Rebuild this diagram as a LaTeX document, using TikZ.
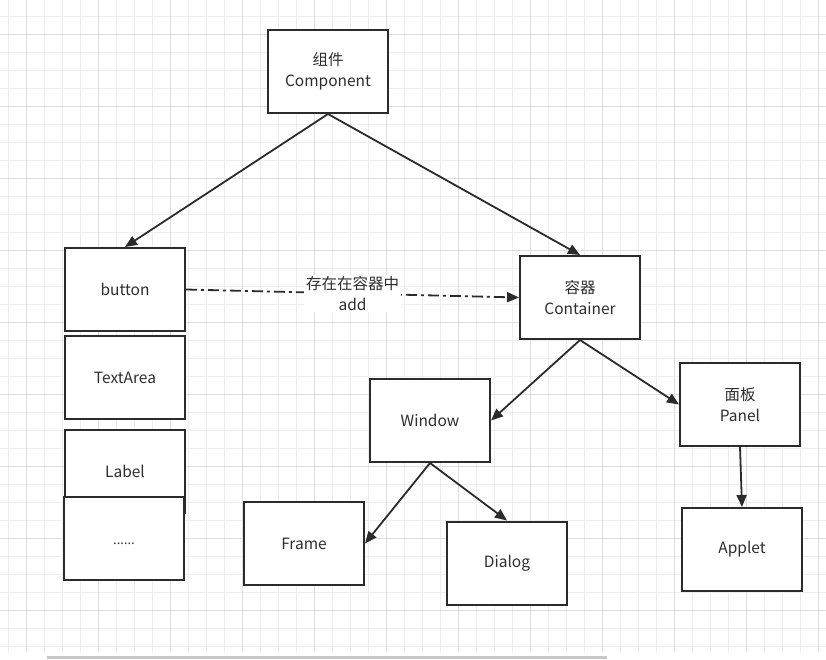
\documentclass[tikz,border=0pt]{standalone}
\usepackage{fontspec}
\setmainfont{Noto Sans CJK SC}
\usetikzlibrary{arrows.meta}
\definecolor{minorgrid}{HTML}{EEEEEE}
\definecolor{majorgrid}{HTML}{DEDEDE}
\definecolor{boxline}{HTML}{2B2B2B}
\definecolor{barcol}{HTML}{C8C8C8}
\begin{document}
\begin{tikzpicture}[x=1pt,y=-1pt,
  txt/.style={align=center,font=\fontsize{15.5pt}{20.5pt}\selectfont,text=black!82},
  box/.style={txt,draw=boxline,line width=2pt,fill=white,minimum width=120pt,minimum height=83pt,
    inner sep=0pt},
  link/.style={draw=boxline,line width=1.8pt,-{Triangle[length=12pt,width=10pt]}},
  dashlink/.style={link,dash pattern=on 11pt off 4pt on 3pt off 4pt}]
\useasboundingbox (0,0) rectangle (826,659);
\fill[white] (0,0) rectangle (826,659);
% grid
\foreach \x in {8.7,26.7,...,826} \draw[minorgrid,line width=0.8pt] (\x,0) -- (\x,652);
\foreach \y in {16.3,34.3,...,652} \draw[minorgrid,line width=0.8pt] (0,\y) -- (826,\y);
\foreach \x in {26.7,98.7,...,826} \draw[majorgrid,line width=0.8pt] (\x,0) -- (\x,652);
\foreach \y in {34.3,106.3,...,652} \draw[majorgrid,line width=0.8pt] (0,\y) -- (826,\y);
\fill[barcol] (47,656) rectangle (607,659);
% nodes
\node[box] (comp) at (328,71.5) {组件\\Component};
\node[box] (button) at (125,289.5) {button};
\node[box] (text) at (125,377.5) {TextArea};
\node[box] (label) at (125,471.5) {Label};
\node[box] (dots) at (124,538.5) {\smash{\raisebox{-6pt}{\fontsize{13pt}{15pt}\selectfont ......}}};
\node[box] (cont) at (580,297.5) {容器\\Container};
\node[box] (win) at (430,420.5) {Window};
\node[box] (panel) at (740,404.5) {面板\\Panel};
\node[box] (frame) at (304,543.5) {Frame};
\node[box] (dialog) at (507,563) {Dialog};
\node[box] (applet) at (742,549.5) {Applet};
% connectors
\draw[link] (comp.south) -- (button.north);
\draw[link] (comp.south) -- (cont.north);
\draw[dashlink] (button.east) -- node[txt,fill=white,inner sep=2pt] (addlbl) {存在在容器中\\add} (cont.west);
\draw[link] (cont.south) -- (win.east);
\draw[link] (cont.south) -- (panel.west);
\draw[link] (win.south) -- (frame.east);
\draw[link] (win.south) -- (dialog.north);
\draw[link] (panel.south) -- (applet.north);
\end{tikzpicture}
\end{document}
